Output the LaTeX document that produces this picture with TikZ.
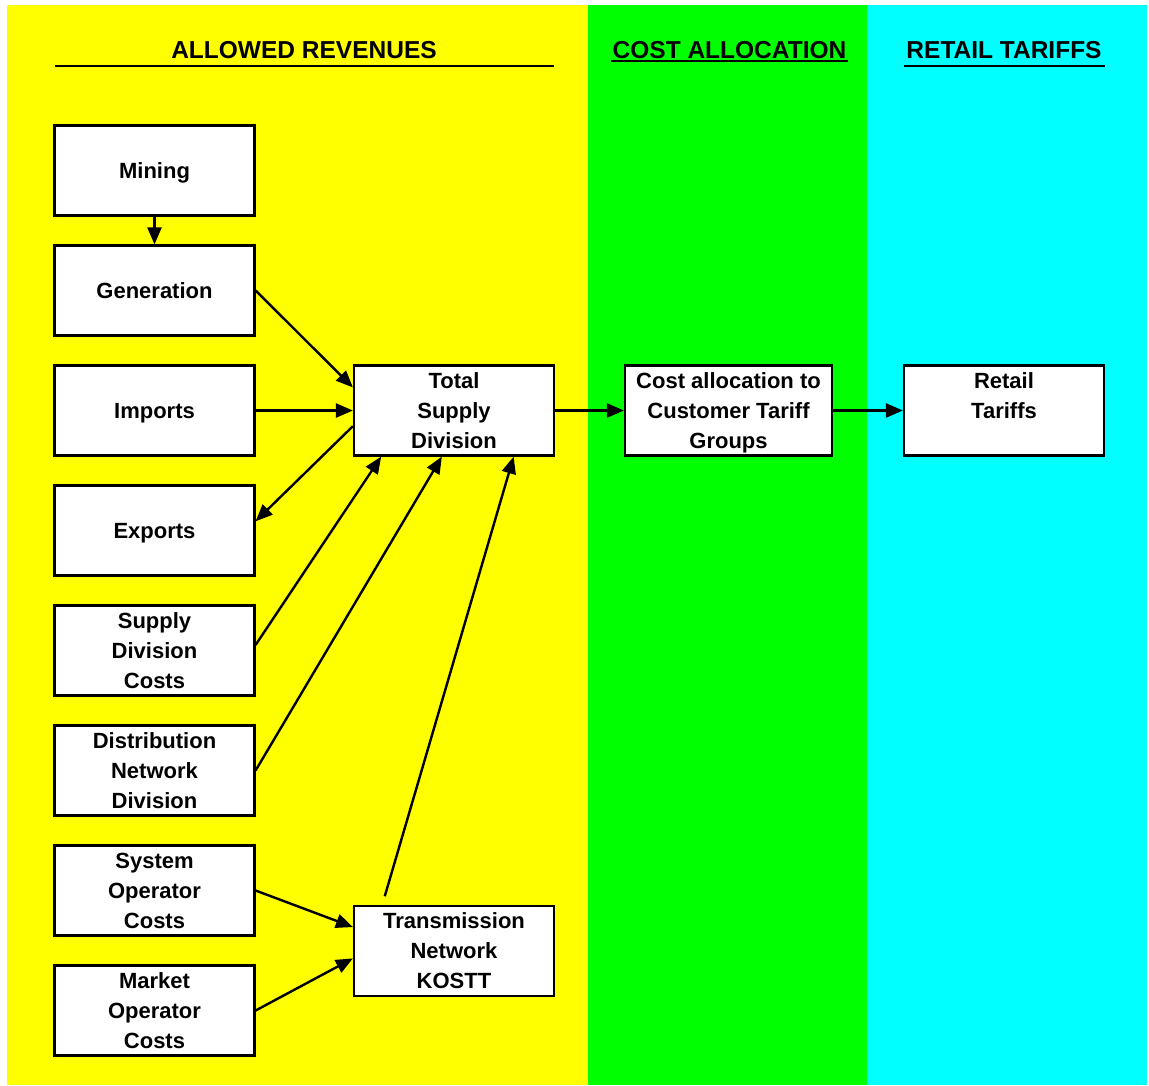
\documentclass[tikz,border=0pt]{standalone}
\usepackage{fontspec}
\setmainfont{Liberation Sans}
\usetikzlibrary{arrows.meta,calc}
\definecolor{bgyellow}{HTML}{FFFF00}
\definecolor{bggreen}{HTML}{00FF00}
\definecolor{bgcyan}{HTML}{00FFFF}
\begin{document}
\begin{tikzpicture}[x=1pt,y=-1pt,
  box/.style={draw=black,line width=2.2pt,fill=white,minimum width=200pt,minimum height=90pt,
    inner sep=0pt,text depth=0pt,align=center,font=\fontsize{22}{30}\selectfont\bfseries},
  hdr/.style={anchor=base,inner sep=0pt,font=\fontsize{24.5}{28}\selectfont\bfseries},
  uline/.style={line width=2.5pt},
  conn/.style={line width=2.4pt,-{Triangle[length=17pt,width=14pt]}}]
\useasboundingbox (0,0) rectangle (1149,1085);
\fill[white] (0,0) rectangle (1149,1085);
\fill[bgyellow] (7,5) rectangle (588,1085);
\fill[bggreen] (588,5) rectangle (867,1085);
\fill[bgcyan] (867,5) rectangle (1147,1085);

% headers
\node[hdr] (h1) at (304,58) {ALLOWED REVENUES};
\node[hdr] (h2) at (729.5,58) {COST ALLOCATION};
\node[hdr] (h3) at (1004,58) {RETAIL TARIFFS};
\coordinate (u1a) at (55,66); \coordinate (u1b) at (554,66);
\coordinate (u2a) at (611,61); \coordinate (u2b) at (848,61);
\coordinate (u3a) at (904,66); \coordinate (u3b) at (1105,66);
\draw[uline] (u1a) -- (u1b);
\draw[uline] (u2a) -- (u2b);
\draw[uline] (u3a) -- (u3b);

% left column
\node[box] (min) at (154.5,170.5) {Mining};
\node[box] (gen) at (154.5,290.5) {Generation};
\node[box] (imp) at (154.5,410.5) {Imports};
\node[box] (exp) at (154.5,530.5) {Exports};
\node[box] (sdc) at (154.5,650.5) {Supply\\Division\\Costs};
\node[box] (dnd) at (154.5,770.5) {Distribution\\Network\\Division};
\node[box] (sys) at (154.5,890.5) {System\\Operator\\Costs};
\node[box] (mkt) at (154.5,1010.5) {Market\\Operator\\Costs};

% middle
\node[box] (tot) at (454,410.5) {Total\\Supply\\Division};
\node[box] (trn) at (454,951) {Transmission\\Network\\KOSTT};
\node[box,minimum width=207pt] (cst) at (728.5,410.5) {Cost allocation to\\Customer Tariff\\Groups};
\node[box] (ret) at (1004,410.5) {Retail\\Tariffs\\\mbox{}};

% connectors
\draw[conn] (min.south) -- (gen.north);
\draw[conn] (gen.east) -- ($(tot.north west)!0.25!(tot.south west)$);
\draw[conn] (imp.east) -- (tot.west);
\draw[conn] ($(tot.north west)!0.67!(tot.south west)$) -- ($(exp.north east)!0.4!(exp.south east)$);
\draw[conn] ($(sdc.north east)!0.44!(sdc.south east)$) -- ($(tot.south west)!0.14!(tot.south east)$);
\draw[conn] (dnd.east) -- ($(tot.south west)!0.44!(tot.south east)$);
\draw[conn,shorten <=9pt] ($(trn.north west)!0.145!(trn.north east)$) -- ($(tot.south west)!0.795!(tot.south east)$);
\draw[conn] (sys.east) -- ($(trn.north west)!0.24!(trn.south west)$);
\draw[conn] (mkt.east) -- ($(trn.north west)!0.58!(trn.south west)$);
\draw[conn] (tot.east) -- (cst.west);
\draw[conn] (cst.east) -- (ret.west);
\end{tikzpicture}
\end{document}
